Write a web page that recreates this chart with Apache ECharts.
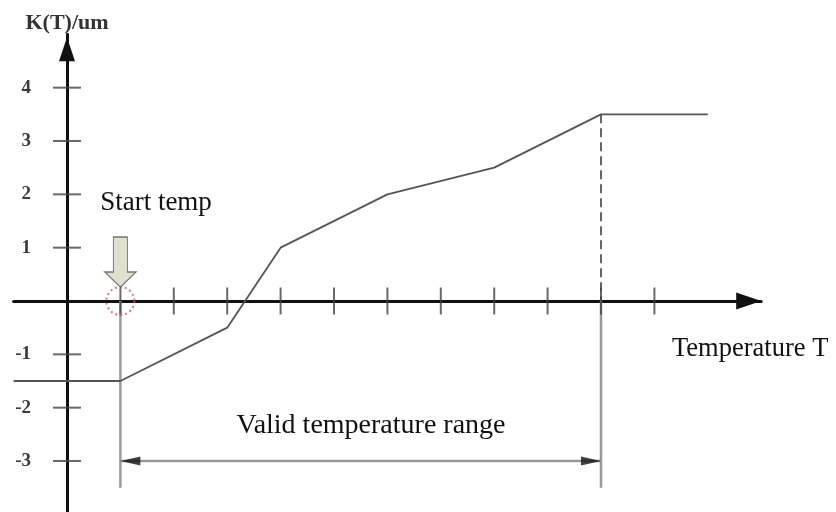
<!DOCTYPE html>
<html>
<head>
<meta charset="utf-8">
<script src="https://cdn.jsdelivr.net/npm/echarts@6/dist/echarts.min.js"></script>
<style>
  html, body { margin: 0; padding: 0; background: #fff; }
  #chart { width: 836px; height: 512px; }
</style>
</head>
<body>
<div id="chart"></div>
<script>
// K(T) curve break points [T, K]
var curveT = [-1, 1, 3, 4, 6, 8, 10, 12];
var curveK = [-1.5, -1.5, -0.5, 1, 2, 2.5, 3.5, 3.5];
// axis tick positions
var xTicks = [1, 2, 3, 4, 5, 6, 7, 8, 9, 10, 11];
var yTicks = [-3, -2, -1, 1, 2, 3, 4];
// valid temperature range (start / end temp) and annotation levels
var startTemp = 1;
var endTemp = 10;
var endK = 3.5;
var rangeK = -3;
var guideBottom = -3.5;
var startArrowK = 0.73;

var font = '"Liberation Serif", "Times New Roman", serif';

function pairs(xs, ys) {
  var out = [];
  for (var i = 0; i < xs.length; i++) out.push([xs[i], ys[i]]);
  return out;
}

var option = {
  animation: false,
  backgroundColor: '#fff',
  grid: { left: 13.6, top: 34.33, width: 747.6, height: 480, containLabel: false, outerBoundsMode: 'none' },
  xAxis: {
    type: 'value', min: -1, max: 13, interval: 1,
    axisLine: {
      onZero: true,
      lineStyle: { color: '#111', width: 3 },
      symbol: ['none', 'triangle'], symbolSize: [17, 25], symbolOffset: [0, -12.5]
    },
    axisTick: { show: false },
    axisLabel: { show: false },
    splitLine: { show: false }
  },
  yAxis: {
    type: 'value', min: -4, max: 5, interval: 1,
    name: 'K(T)/um',
    nameLocation: 'end',
    nameGap: 0,
    nameTextStyle: { fontFamily: font, fontWeight: 'bold', fontSize: 22, color: '#333' },
    axisLine: {
      onZero: true,
      lineStyle: { color: '#111', width: 3 },
      symbol: ['none', 'triangle'], symbolSize: [16, 24], symbolOffset: [0, -15]
    },
    axisTick: { show: false },
    axisLabel: {
      // labels stay at the grid edge, not on the zero line
      margin: -17.4,
      fontFamily: font, fontWeight: 'bold', fontSize: 19, color: '#3a3a3a',
      formatter: function (v) { return yTicks.indexOf(v) >= 0 ? String(v) : ''; }
    },
    splitLine: { show: false }
  },
  graphic: [
    { type: 'text', x: 156, y: 203, style: { text: 'Start temp', font: '27px ' + font, fill: '#111', textAlign: 'center', textVerticalAlign: 'middle' } },
    { type: 'text', x: 672, y: 349, style: { text: 'Temperature T', font: '26.5px ' + font, fill: '#111', textAlign: 'left', textVerticalAlign: 'middle' } },
    { type: 'text', x: 371, y: 426, style: { text: 'Valid temperature range', font: '28px ' + font, fill: '#111', textAlign: 'center', textVerticalAlign: 'middle' } }
  ],
  series: [
    {
      // grey guide at start temp
      type: 'line', symbol: 'none', silent: true,
      data: [[startTemp, 0], [startTemp, guideBottom]],
      lineStyle: { color: '#999', width: 2.5 }
    },
    {
      // dashed guide at end temp above axis
      type: 'line', symbol: 'none', silent: true,
      data: [[endTemp, endK], [endTemp, 0]],
      lineStyle: { color: '#666', width: 2, type: [9, 5] }
    },
    {
      type: 'line', symbol: 'none', silent: true,
      data: [[endTemp, 0], [endTemp, guideBottom]],
      lineStyle: { color: '#999', width: 2.5 }
    },
    {
      // range line
      type: 'line', symbol: 'none', silent: true,
      data: [[startTemp, rangeK], [endTemp, rangeK]],
      lineStyle: { color: '#999', width: 2.5 }
    },
    {
      // range arrow heads
      type: 'scatter', silent: true, z: 5,
      symbol: 'triangle', symbolSize: [9, 20],
      itemStyle: { color: '#111' },
      data: [
        { value: [startTemp, rangeK], symbolRotate: 90, symbolOffset: [10, 0] },
        { value: [endTemp, rangeK], symbolRotate: -90, symbolOffset: [-10, 0] }
      ]
    },
    {
      // K(T)
      type: 'line', symbol: 'none', silent: true, z: 4,
      data: pairs(curveT, curveK),
      lineStyle: { color: '#555', width: 1.8 }
    },
    {
      // axis ticks (cross the axis)
      type: 'scatter', silent: true, z: 6,
      symbol: 'rect', symbolSize: [28, 2],
      itemStyle: { color: '#444' },
      data: yTicks.map(function (v) { return [0, v]; })
    },
    {
      type: 'scatter', silent: true, z: 6,
      symbol: 'rect', symbolSize: [2, 27],
      itemStyle: { color: '#444' },
      data: xTicks.map(function (v) { return [v, 0]; })
    },
    {
      // dotted circle at start temp
      type: 'scatter', silent: true, z: 7,
      symbol: 'circle', symbolSize: 28,
      itemStyle: { color: 'rgba(0,0,0,0)', borderColor: '#d0506e', borderWidth: 2, borderType: [2, 3] },
      data: [[startTemp, 0]]
    },
    {
      // block arrow pointing at start temp
      type: 'scatter', silent: true, z: 8,
      symbol: 'path://M8.5,0 L22.5,0 L22.5,35 L31,35 L15.5,50 L0,35 L8.5,35 Z',
      symbolSize: [31, 50],
      itemStyle: { color: '#d7dac0', borderColor: '#555', borderWidth: 1.2 },
      data: [[startTemp, startArrowK]]
    }
  ]
};

var myChart = echarts.init(document.getElementById('chart'), null, { renderer: 'canvas' });
myChart.setOption(option, true);
</script>
</body>
</html>
